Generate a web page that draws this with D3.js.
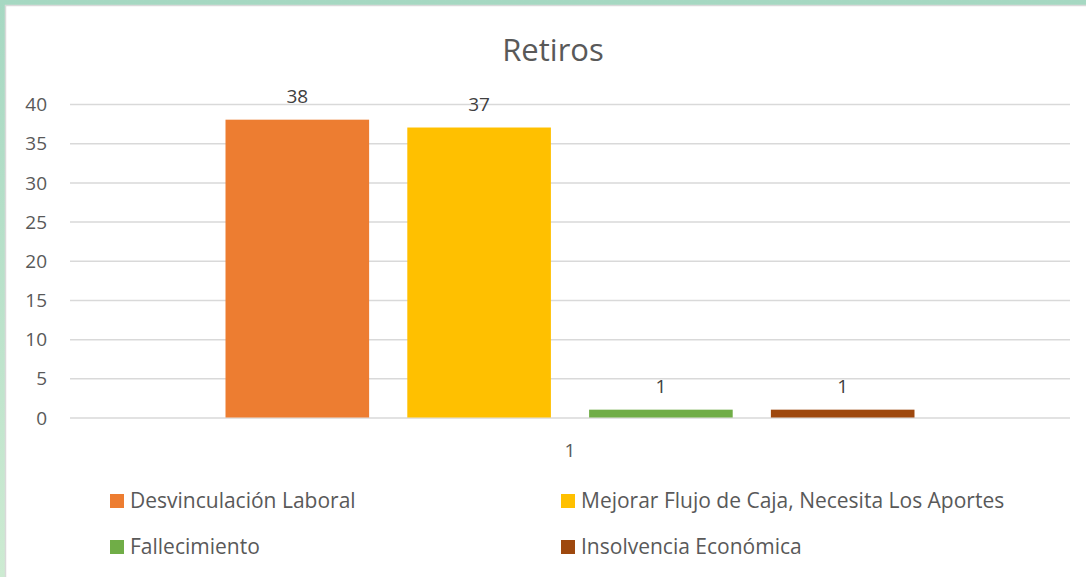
<!DOCTYPE html>
<html><head><meta charset="utf-8">
<script src="https://cdn.jsdelivr.net/npm/d3@7"></script>
<style>
html,body{margin:0;padding:0;background:#fff;}
svg{display:block;}
</style></head>
<body>
<svg id="c" width="1086" height="577"></svg>
<script>
const title = "Retiros";
const categories = ["1"];
const seriesNames = ["Desvinculación Laboral","Mejorar Flujo de Caja, Necesita Los Aportes","Fallecimiento","Insolvencia Económica"];
const seriesValues = [38, 37, 1, 1];
const seriesColors = ["#ED7D31","#FFC000","#70AD47","#9E480E"];
const yTicks = [0,5,10,15,20,25,30,35,40];

const svg = d3.select("#c");
const font = "'Open Sans', sans-serif";

// background frame
const defs = svg.append("defs");
const g1 = defs.append("linearGradient").attr("id","bg").attr("x1",0).attr("y1",0).attr("x2",0).attr("y2",1);
g1.append("stop").attr("offset","0%").attr("stop-color","#a6d8c2");
g1.append("stop").attr("offset","100%").attr("stop-color","#cdebd2");
svg.append("rect").attr("width",1086).attr("height",577).attr("fill","url(#bg)");
svg.append("rect").attr("x",5.5).attr("y",5.5).attr("width",1090).attr("height",580)
  .attr("fill","#fff").attr("stroke","#d9d9d9").attr("stroke-width",1.5);

const m = {left:70, right:1070, top:104, bottom:417.5};
const y = d3.scaleLinear().domain([0,40]).range([m.bottom, m.top]);
const x0 = d3.scaleBand().domain(categories).range([m.left, m.right]).paddingInner(0).paddingOuter(0.2257);
const x1 = d3.scaleBand().domain(seriesNames).range([0, x0.bandwidth()]).paddingInner(0.21).paddingOuter(0);

// gridlines
const grid = d3.axisLeft(y).tickValues(yTicks).tickSize(-(m.right-m.left)).tickFormat("");
svg.append("g").attr("transform",`translate(${m.left},0)`).call(grid)
  .call(g=>g.select(".domain").remove())
  .call(g=>g.selectAll("line").attr("stroke","#d9d9d9").attr("stroke-width",1.5));

// y axis labels
const yAxis = d3.axisLeft(y).tickValues(yTicks).tickSize(0).tickPadding(0);
svg.append("g").attr("transform",`translate(47,0)`).call(yAxis)
  .call(g=>g.select(".domain").remove())
  .call(g=>g.selectAll("text").attr("fill","#595959").style("font-family",font).style("font-size","19px").attr("dy","0.35em"));

// bars
const grp = svg.append("g").selectAll("g").data(categories).join("g")
  .attr("transform",d=>`translate(${x0(d)},0)`);
grp.selectAll("rect").data(seriesNames.map((s,i)=>({s, v:seriesValues[i], c:seriesColors[i]})))
  .join("rect")
  .attr("x",d=>x1(d.s)).attr("width",x1.bandwidth())
  .attr("y",d=>y(d.v)).attr("height",d=>y(0)-y(d.v)).attr("fill",d=>d.c);
grp.selectAll("text.lbl").data(seriesNames.map((s,i)=>({s, v:seriesValues[i]})))
  .join("text").attr("class","lbl")
  .attr("x",d=>x1(d.s)+x1.bandwidth()/2).attr("y",d=>y(d.v)-17)
  .attr("text-anchor","middle").attr("fill","#404040")
  .style("font-family",font).style("font-size","19px").text(d=>d.v);

// x axis labels
const xAxis = d3.axisBottom(x0).tickSize(0).tickPadding(0);
svg.append("g").attr("transform",`translate(0,${m.bottom+33})`).call(xAxis)
  .call(g=>g.select(".domain").remove())
  .call(g=>g.selectAll("text").attr("fill","#595959").style("font-family",font).style("font-size","19px").attr("dy","0.35em"));

// title
svg.append("text").attr("x",553).attr("y",61).attr("text-anchor","middle")
  .attr("fill","#595959").style("font-family",font).style("font-size","31px").text(title);

// legend
const legPos = [[110,501],[561,501],[110,547],[561,547]];
const leg = svg.append("g").selectAll("g").data(seriesNames).join("g")
  .attr("transform",(d,i)=>`translate(${legPos[i][0]},${legPos[i][1]})`);
leg.append("rect").attr("x",0).attr("y",-7).attr("width",14).attr("height",14).attr("fill",(d,i)=>seriesColors[i]);
leg.append("text").attr("x",20).attr("y",0).attr("dy","0.35em").attr("fill","#595959")
  .style("font-family",font).style("font-size","21px").text(d=>d);
</script>
</body></html>
